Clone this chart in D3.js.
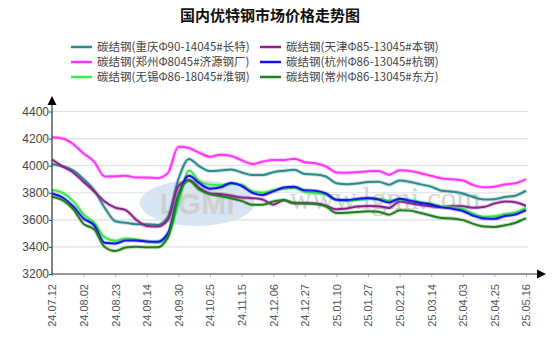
<!DOCTYPE html>
<html>
<head>
<meta charset="utf-8">
<script src="https://cdn.jsdelivr.net/npm/d3@7/dist/d3.min.js"></script>
<style>
  body { margin: 0; background: #fff; }
  svg { display: block; font-family: "Liberation Sans", Arial, sans-serif; }
</style>
</head>
<body>
<script>
// tick labels, one every 3 sample points
var dateLabels = ["24.07.12", "24.08.02", "24.08.23", "24.09.14", "24.09.30", "24.10.25", "24.11.15", "24.12.06",
  "24.12.27", "25.01.10", "25.01.27", "25.02.21", "25.03.14", "25.04.03", "25.04.25", "25.05.16"];
var yTicks = [3200, 3400, 3600, 3800, 4000, 4200, 4400];

var names = ["碳结钢(重庆Φ90-14045#长特)", "碳结钢(天津Φ85-13045#本钢)", "碳结钢(郑州Φ8045#济源钢厂)",
  "碳结钢(杭州Φ86-13045#杭钢)", "碳结钢(无锡Φ86-18045#淮钢)", "碳结钢(常州Φ86-13045#东方)"];
var colors = ["#2e8b8b", "#8b238b", "#ff33ff", "#1515e6", "#33ee44", "#1f7f1f"];

var chongqing = [4012, 3995, 3965, 3900, 3820, 3690, 3590, 3578, 3568, 3568, 3562, 3620, 3900, 4050, 3995, 3960,
  3964, 3972, 3950, 3931, 3931, 3952, 3962, 3970, 3938, 3935, 3920, 3870, 3862, 3868, 3880, 3882,
  3860, 3890, 3880, 3862, 3845, 3815, 3808, 3795, 3768, 3750, 3752, 3768, 3778, 3815];
var tianjin = [4046, 3995, 3950, 3880, 3810, 3735, 3690, 3672, 3600, 3555, 3550, 3600, 3850, 3895, 3835, 3795,
  3790, 3778, 3765, 3760, 3750, 3712, 3745, 3722, 3722, 3720, 3705, 3678, 3684, 3698, 3702, 3700,
  3688, 3735, 3722, 3710, 3700, 3694, 3702, 3700, 3690, 3695, 3720, 3735, 3730, 3702];
var zhengzhou = [4210, 4200, 4160, 4090, 4030, 3920, 3922, 3926, 3912, 3912, 3908, 3945, 4140, 4130, 4095, 4066,
  4080, 4072, 4040, 4012, 4030, 4042, 4041, 4052, 4026, 4018, 3995, 3950, 3948, 3952, 3958, 3960,
  3933, 3966, 3960, 3944, 3925, 3906, 3899, 3890, 3856, 3840, 3845, 3862, 3870, 3900];
var hangzhou = [3795, 3765, 3700, 3610, 3560, 3430, 3425, 3448, 3448, 3440, 3438, 3500, 3780, 3925, 3870, 3830,
  3840, 3872, 3850, 3800, 3784, 3810, 3838, 3844, 3818, 3815, 3795, 3748, 3746, 3755, 3762, 3750,
  3728, 3755, 3740, 3725, 3712, 3692, 3682, 3665, 3630, 3610, 3608, 3628, 3640, 3672];
var wuxi = [3820, 3800, 3740, 3640, 3580, 3470, 3446, 3462, 3455, 3440, 3432, 3480, 3720, 3965, 3885, 3860,
  3857, 3866, 3860, 3812, 3802, 3818, 3830, 3836, 3805, 3800, 3785, 3748, 3740, 3746, 3754, 3756,
  3742, 3750, 3745, 3730, 3718, 3698, 3692, 3680, 3645, 3623, 3626, 3643, 3655, 3690];
var changzhou = [3771, 3745, 3680, 3570, 3530, 3400, 3370, 3395, 3401, 3398, 3398, 3470, 3780, 3890, 3822, 3790,
  3776, 3760, 3740, 3712, 3712, 3735, 3746, 3724, 3722, 3716, 3700, 3650, 3652, 3658, 3664, 3660,
  3638, 3670, 3668, 3650, 3630, 3613, 3610, 3598, 3570, 3550, 3548, 3560, 3578, 3612];

var seriesData = [chongqing, tianjin, zhengzhou, hangzhou, wuxi, changzhou];
var drawOrder = [0, 2, 1, 4, 3, 5];

var W = 554, H = 353;
var svg = d3.select("body").append("svg").attr("width", W).attr("height", H);

var x = d3.scaleLinear().domain([0, chongqing.length - 1]).range([52, 526]);
var y = d3.scaleLinear().domain([3200, 4400]).range([274, 111.5]);

// title
svg.append("text")
  .attr("x", 270).attr("y", 21)
  .attr("text-anchor", "middle")
  .style("font-family", "'Noto Sans CJK SC', sans-serif")
  .style("font-size", "15px").style("font-weight", "bold")
  .attr("fill", "#111")
  .text("国内优特钢市场价格走势图");

// legend, 2 columns x 3 rows
var legend = svg.append("g");
names.forEach(function (n, i) {
  var col = i % 2, row = Math.floor(i / 2);
  var lx = col === 0 ? 71 : 260, ly = 47 + row * 15;
  legend.append("line")
    .attr("x1", lx).attr("x2", lx + 21).attr("y1", ly).attr("y2", ly)
    .attr("stroke", colors[i]).attr("stroke-width", 2.5);
  legend.append("text")
    .attr("x", lx + 26).attr("y", ly + 4)
    .style("font-family", "'Noto Sans CJK SC', sans-serif")
    .style("font-size", "11.5px")
    .attr("fill", "#444")
    .text(n);
});

// watermark
var wm = svg.append("g").attr("opacity", 0.55);
wm.append("ellipse").attr("cx", 197).attr("cy", 203).attr("rx", 57).attr("ry", 23)
  .attr("fill", "#b7cfe8");
wm.append("text").attr("x", 197).attr("y", 214).attr("text-anchor", "middle")
  .style("font-size", "30px").style("font-weight", "bold")
  .attr("fill", "#a8a8a8").text("LGMI");
svg.append("text").attr("x", 385).attr("y", 209).attr("text-anchor", "middle")
  .style("font-family", "'Liberation Serif', serif").style("font-size", "31px")
  .attr("fill", "#d4d4d4").text("www.lgmi.com");

// grid
svg.append("g").selectAll("line").data(yTicks.slice(1)).enter().append("line")
  .attr("x1", 52).attr("x2", 528)
  .attr("y1", function (d) { return y(d); }).attr("y2", function (d) { return y(d); })
  .attr("stroke", "#e0e0e0").attr("stroke-width", 1.2);

// lines, with a faint halo under each like the original
var line = d3.line()
  .x(function (d, i) { return x(i); })
  .y(function (d) { return y(d); })
  .curve(d3.curveMonotoneX);

drawOrder.forEach(function (k) {
  svg.append("path")
    .datum(seriesData[k])
    .attr("d", line)
    .attr("fill", "none")
    .attr("stroke", colors[k])
    .attr("stroke-opacity", 0.25)
    .attr("stroke-width", 4);
  svg.append("path")
    .datum(seriesData[k])
    .attr("d", line)
    .attr("fill", "none")
    .attr("stroke", colors[k])
    .attr("stroke-width", 2)
    .attr("stroke-linejoin", "round");
});

// y axis
var yAxis = svg.append("g").attr("transform", "translate(52,0)")
  .call(d3.axisLeft(y).tickValues(yTicks).tickSize(3).tickFormat(d3.format("d")));
yAxis.select(".domain").remove();
yAxis.selectAll("text").style("font-size", "12px").attr("fill", "#444").attr("x", -3);
yAxis.selectAll(".tick line").attr("stroke", "#444");
svg.append("line").attr("x1", 52).attr("x2", 52).attr("y1", 104).attr("y2", 274.5)
  .attr("stroke", "#333").attr("stroke-width", 1.2);
svg.append("path").attr("d", "M52,96L47.5,105L56.5,105Z").attr("fill", "#000");

// x axis
var tickIdx = dateLabels.map(function (d, i) { return i * 3; });
var xAxis = svg.append("g").attr("transform", "translate(0,274)")
  .call(d3.axisBottom(x).tickValues(tickIdx).tickSize(3)
    .tickFormat(function (d) { return dateLabels[d / 3]; }));
xAxis.select(".domain").remove();
xAxis.selectAll(".tick line").attr("stroke", "#bbb");
xAxis.selectAll("text")
  .style("font-size", "11px").attr("fill", "#555")
  .attr("text-anchor", "end")
  .attr("transform", "rotate(-90)")
  .attr("x", -10).attr("y", 0).attr("dy", "0.35em");
svg.append("line").attr("x1", 52).attr("x2", 538).attr("y1", 274).attr("y2", 274)
  .attr("stroke", "#333").attr("stroke-width", 1.2);
svg.append("path").attr("d", "M546,274L537,269.5L537,278.5Z").attr("fill", "#000");
</script>
</body>
</html>
